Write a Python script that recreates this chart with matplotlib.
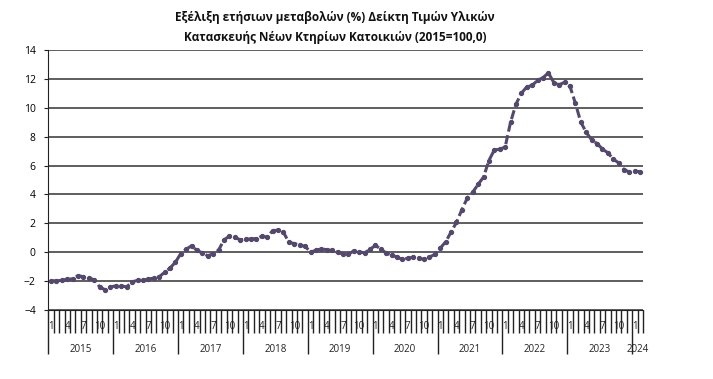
import matplotlib
matplotlib.use("Agg")
import matplotlib.pyplot as plt
import numpy as np

plt.rcParams["font.family"] = ["Open Sans", "DejaVu Sans"]

# --- data (annual % change, monthly, Jan 2015 - Feb 2024) ---
years = ["2015", "2016", "2017", "2018", "2019", "2020", "2021", "2022", "2023", "2024"]
month_labels = ["1", "", "", "4", "", "", "7", "", "", "10", "", ""]

values = [
    -1.98, -1.98, -1.95, -1.87, -1.85, -1.62, -1.70, -1.80, -1.90, -2.40, -2.60, -2.40,  # 2015
    -2.33, -2.33, -2.40, -2.05, -1.95, -1.95, -1.85, -1.80, -1.70, -1.40, -1.10, -0.70,  # 2016
    -0.10, 0.20, 0.45, 0.12, -0.05, -0.25, -0.10, 0.15, 0.85, 1.12, 1.05, 0.85,          # 2017
    0.90, 0.92, 0.95, 1.10, 1.05, 1.50, 1.52, 1.38, 0.68, 0.60, 0.50, 0.40,              # 2018
    0.02, 0.12, 0.24, 0.17, 0.12, 0.00, -0.12, -0.15, 0.10, 0.03, -0.05, 0.20,           # 2019
    0.47, 0.22, -0.06, -0.20, -0.34, -0.50, -0.42, -0.34, -0.40, -0.50, -0.34, -0.15,    # 2020
    0.28, 0.72, 1.40, 2.07, 2.95, 3.75, 4.15, 4.70, 5.20, 6.35, 7.08, 7.13,              # 2021
    7.28, 9.00, 10.25, 11.00, 11.45, 11.55, 11.90, 12.08, 12.42, 11.75, 11.60, 11.76,    # 2022
    11.48, 10.30, 9.00, 8.30, 7.78, 7.52, 7.15, 6.88, 6.45, 6.18, 5.72, 5.55,            # 2023
    5.60, 5.58,                                                                           # 2024
]

title = ("Εξέλιξη ετήσιων μεταβολών (%) Δείκτη Τιμών Υλικών\n"
         "Κατασκευής Νέων Κτηρίων Κατοικιών (2015=100,0)")

n = len(values)
x = np.arange(n) + 0.5

fig = plt.figure(figsize=(7.13, 3.79), dpi=100)
ax = fig.add_axes([48.3 / 713, 69 / 379, 594.7 / 713, 260 / 379])

# --- gridlines ---
ax.set_ylim(-4, 14)
ax.set_yticks(np.arange(-4, 15, 2))
ax.yaxis.grid(True, color="#333333", linewidth=1.1)
ax.set_axisbelow(True)

# --- series ---
ax.plot(x, values, color="#54486d", linewidth=2.2, linestyle=(0, (3, 1.2)),
        marker="o", markersize=2.8, zorder=3)

# --- axes ---
ax.set_xlim(0, n)
for side in ["top", "right"]:
    ax.spines[side].set_visible(False)
ax.spines["left"].set_color("#222222")
ax.spines["bottom"].set_color("#222222")
ax.tick_params(axis="y", length=3, labelsize=7.5, color="#222222", pad=6)

# month ticks (short) and year separators (long)
ax.set_xticks(np.arange(0, n + 1), minor=True)
year_starts = list(range(0, n, 12))
ax.set_xticks(year_starts)
ax.set_xticklabels([])
ax.tick_params(axis="x", which="minor", length=16.5, width=1.0, color="#222222")
ax.tick_params(axis="x", which="major", length=32, width=1.0, color="#222222")

trans = ax.get_xaxis_transform()
for i in range(n):
    lab = month_labels[i % 12]
    if lab:
        ax.text(i + 0.5, -0.063, lab, transform=trans, ha="center", va="center",
                fontsize=7, color="#222222")
for k, yr in enumerate(years):
    start = k * 12
    end = min(start + 12, n)
    ax.text((start + end) / 2, -0.15, yr, transform=trans, ha="center", va="center",
            fontsize=7, color="#222222")

fig.text(335 / 713, 1 - 27 / 379, title, ha="center", va="center",
         fontsize=8.5, fontweight="bold", linespacing=1.7, color="#111111")

fig.savefig("out.png", dpi=100, facecolor="white")
